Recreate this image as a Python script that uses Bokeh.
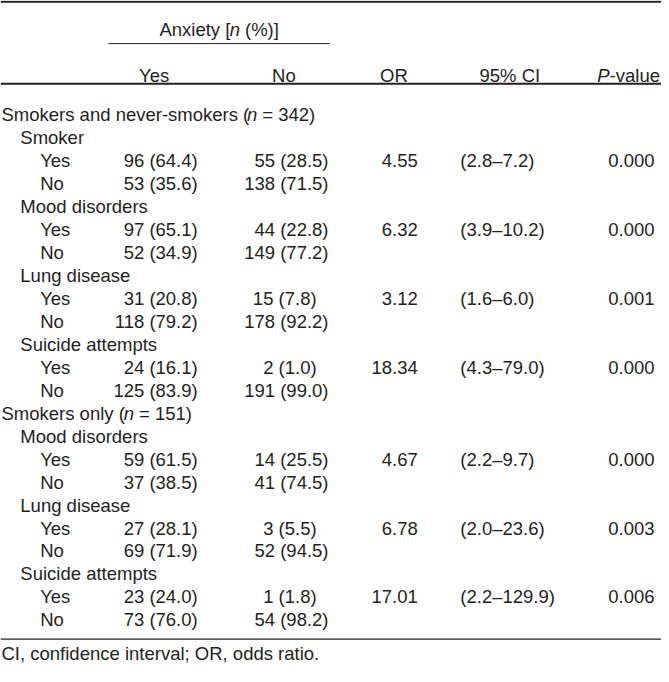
from bokeh.plotting import figure
from bokeh.models import ColumnDataSource, Range1d
from bokeh.core.properties import value
from bokeh.embed import file_html
from bokeh.resources import INLINE

# ---------------- data ----------------
section_names = ["Smokers and never-smokers", "Smokers only"]
section_n = [342, 151]

var_section = [0, 0, 0, 0, 1, 1, 1]
var_names = ["Smoker", "Mood disorders", "Lung disease", "Suicide attempts",
             "Mood disorders", "Lung disease", "Suicide attempts"]

# anxiety = Yes column : (exposure Yes row, exposure No row)
anx_yes_n_rowyes = [96, 97, 31, 24, 59, 27, 23]
anx_yes_pct_rowyes = [64.4, 65.1, 20.8, 16.1, 61.5, 28.1, 24.0]
anx_yes_n_rowno = [53, 52, 118, 125, 37, 69, 73]
anx_yes_pct_rowno = [35.6, 34.9, 79.2, 83.9, 38.5, 71.9, 76.0]
# anxiety = No column
anx_no_n_rowyes = [55, 44, 15, 2, 14, 3, 1]
anx_no_pct_rowyes = [28.5, 22.8, 7.8, 1.0, 25.5, 5.5, 1.8]
anx_no_n_rowno = [138, 149, 178, 191, 41, 52, 54]
anx_no_pct_rowno = [71.5, 77.2, 92.2, 99.0, 74.5, 94.5, 98.2]

odds_ratio = [4.55, 6.32, 3.12, 18.34, 4.67, 6.78, 17.01]
ci_low = [2.8, 3.9, 1.6, 4.3, 2.2, 2.0, 2.2]
ci_high = [7.2, 10.2, 6.0, 79.0, 9.7, 23.6, 129.9]
p_values = ["0.000", "0.000", "0.001", "0.000", "0.000", "0.003", "0.006"]

level_labels = ["Yes", "No"]
col_headers = ["Yes", "No", "OR", "95% CI"]
p_header = ["P", "-value"]
spanner = ["Anxiety [", "n", " (%)]"]
footnote = "CI, confidence interval; OR, odds ratio."

# ---------------- layout ----------------
FONT = value("Liberation Sans")
SIZE = 18.5
FS = "18.5px"
COLOR = "#231f20"
ROW0 = 116.5
ROWH = 23.45
LEVEL_X = [3, 22, 42]
YES_R, NO_R, OR_R, CI_L, P_R = 201, 333, 423, 466, 662
PAD_SMALL = 12   # entries with a one-digit percentage sit one figure left
HEAD_CX = [157, 288, 399, 516]
HEAD_Y = 77
SPAN_Y = 30
SPAN_CX = 222.5
FOOT_Y = 667

W = {' ': 278, '(': 333, ')': 333, '%': 889, '-': 333, '.': 278, '=': 584, '[': 278,
     ']': 278, ';': 278, ',': 278, 'A': 667, 'C': 722, 'I': 278, 'N': 722, 'O': 778,
     'P': 667, 'R': 722, 'S': 667, 'Y': 667, 'a': 556, 'b': 556, 'c': 500, 'd': 556,
     'e': 556, 'f': 278, 'g': 556, 'h': 556, 'i': 222, 'j': 222, 'k': 500, 'l': 222,
     'm': 833, 'n': 556, 'o': 556, 'p': 556, 'q': 556, 'r': 333, 's': 500, 't': 278,
     'u': 556, 'v': 500, 'w': 722, 'x': 500, 'y': 500, 'z': 500}


def tw(s):
    return sum(W.get(c, 556) for c in s) / 1000.0 * SIZE


def fmt_np(n, pct):
    return f"{n} ({pct:.1f})"


def np_right(edge, pct):
    return edge - (PAD_SMALL if pct < 10 else 0)


norm = dict(x=[], y=[], text=[], align=[])
ital = dict(x=[], y=[], text=[], align=[])


def put(d, x, y, t, a="left"):
    d["x"].append(x); d["y"].append(y); d["text"].append(t); d["align"].append(a)


def put_runs(x, y, runs, anchor="left"):
    """runs: list of (text, italic). Leading/trailing spaces are turned into offsets."""
    total = sum(tw(t) for t, _ in runs)
    cx = x - total / 2 if anchor == "center" else (x - total if anchor == "right" else x)
    for t, it in runs:
        lead = len(t) - len(t.lstrip(" "))
        core = t.strip(" ")
        if core:
            put(ital if it else norm, cx + tw(" " * lead), y, core)
        cx += tw(t)


row = 0
for s, name in enumerate(section_names):
    y = ROW0 + row * ROWH
    put_runs(LEVEL_X[0], y, [(name + " (", False), ("n", True), (f" = {section_n[s]})", False)])
    row += 1
    for v in range(len(var_names)):
        if var_section[v] != s:
            continue
        put(norm, LEVEL_X[1], ROW0 + row * ROWH, var_names[v])
        row += 1
        yy = ROW0 + row * ROWH
        put(norm, LEVEL_X[2], yy, level_labels[0])
        put(norm, np_right(YES_R, anx_yes_pct_rowyes[v]), yy,
            fmt_np(anx_yes_n_rowyes[v], anx_yes_pct_rowyes[v]), "right")
        put(norm, np_right(NO_R, anx_no_pct_rowyes[v]), yy,
            fmt_np(anx_no_n_rowyes[v], anx_no_pct_rowyes[v]), "right")
        put(norm, OR_R, yy, f"{odds_ratio[v]:.2f}", "right")
        put(norm, CI_L, yy, f"({ci_low[v]:.1f}\u2013{ci_high[v]:.1f})", "left")
        put(norm, P_R, yy, p_values[v], "right")
        row += 1
        yy = ROW0 + row * ROWH
        put(norm, LEVEL_X[2], yy, level_labels[1])
        put(norm, np_right(YES_R, anx_yes_pct_rowno[v]), yy,
            fmt_np(anx_yes_n_rowno[v], anx_yes_pct_rowno[v]), "right")
        put(norm, np_right(NO_R, anx_no_pct_rowno[v]), yy,
            fmt_np(anx_no_n_rowno[v], anx_no_pct_rowno[v]), "right")
        row += 1

# column headers
for t, cx in zip(col_headers, HEAD_CX):
    put(norm, cx, HEAD_Y, t, "center")
put_runs(667, HEAD_Y, [(p_header[0], True), (p_header[1], False)], "right")
# spanner
put_runs(SPAN_CX, SPAN_Y, [(spanner[0], False), (spanner[1], True), (spanner[2], False)], "center")
# footnote
put(norm, LEVEL_X[0], FOOT_Y, footnote)

p = figure(width=661, height=666, x_range=Range1d(2, 669), y_range=Range1d(680, 0),
           output_backend="svg", toolbar_location=None, min_border=0,
           x_axis_type=None, y_axis_type=None)
p.outline_line_color = None
p.background_fill_color = "white"
p.border_fill_color = "white"

p.text(x="x", y="y", text="text", text_align="align", source=ColumnDataSource(norm),
       text_font=FONT, text_font_size=FS, text_color=COLOR, text_baseline="alphabetic")
p.text(x="x", y="y", text="text", text_align="align", source=ColumnDataSource(ital),
       text_font=FONT, text_font_size=FS, text_color=COLOR, text_baseline="alphabetic",
       text_font_style="italic")

# rules
p.segment(x0=[2, 2, 2], y0=[1.2, 85, 652], x1=[669, 669, 669], y1=[1.2, 85, 652],
          line_color=COLOR, line_width=[2, 2, 1.2])
p.segment(x0=[111], y0=[44], x1=[334], y1=[44], line_color=COLOR, line_width=1)

open("out.html", "w").write(file_html(p, INLINE))
